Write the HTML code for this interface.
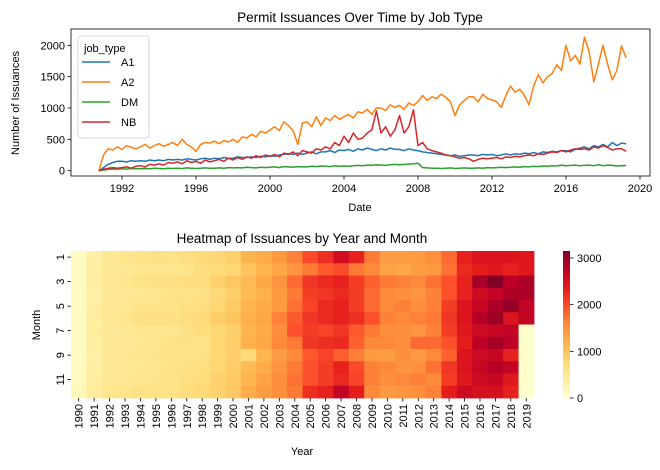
<!DOCTYPE html>
<html><head><meta charset="utf-8"><style>
body{margin:0;background:#fff;}
svg{display:block;font-family:"Liberation Sans","DejaVu Sans",sans-serif;}
</style></head><body>
<svg id="c" width="660" height="470"></svg>
<script>
// ---- Line chart data (quarterly, starting 1990.75; one year per line) ----
const startYear = 1990.75;
const stepYear = 0.25;
const seriesNames = ["A1","A2","DM","NB"];
const a1Values = [0,
50,100,130,150,
150,140,160,150,
160,150,170,160,
170,160,180,170,
180,170,190,180,
170,190,200,180,
200,190,210,200,
200,220,210,210,
220,210,230,220,
240,230,250,260,
270,260,280,260,
280,300,270,300,
300,320,290,330,
320,340,310,350,
330,360,340,320,
350,330,360,340,
340,320,350,330,
320,300,290,280,
270,260,250,240,
250,230,240,250,
250,240,260,250,
260,240,250,270,
250,270,260,280,
270,290,270,300,
290,310,300,320,
320,300,340,360,
380,350,400,380,
420,380,450,400,
440,430];
const a2Values = [0,
250,350,330,380,
340,400,370,350,
380,420,360,400,
430,390,420,450,
400,500,420,380,
310,420,450,440,
470,430,480,460,
500,450,540,520,
580,540,630,600,
650,700,640,780,
720,640,420,760,
780,700,860,720,
840,800,880,820,
860,900,840,940,
920,980,900,1000,
1000,960,1050,1010,
1040,980,1080,1040,
1100,1200,1120,1180,
1150,1220,1170,1100,
880,1050,1120,1180,
1180,1100,1220,1150,
1130,1100,1010,1200,
1350,1250,1300,1200,
1050,1350,1530,1400,
1500,1550,1690,1600,
2000,1750,1840,1700,
2130,1900,1420,1700,
2000,1700,1450,1600,
1990,1800];
const dmValues = [0,
10,20,25,25,
30,25,35,30,
30,35,30,40,
35,30,40,35,
40,35,45,40,
35,40,45,40,
40,45,40,50,
45,50,45,55,
50,45,55,50,
55,60,50,65,
60,55,65,60,
60,70,65,75,
70,65,80,70,
75,70,80,85,
80,90,85,95,
90,85,95,100,
95,100,105,110,
120,50,45,40,
40,35,40,45,
35,40,45,40,
40,45,40,50,
45,50,55,50,
55,60,55,65,
60,70,65,75,
70,80,75,90,
80,85,90,80,
85,90,80,95,
80,90,85,75,
80,85];
const nbValues = [0,
20,40,50,40,
50,60,40,70,
80,60,100,90,
110,90,130,120,
140,110,160,130,
150,120,170,140,
160,180,150,200,
170,210,180,220,
200,240,210,250,
230,260,220,280,
260,300,240,320,
300,280,350,330,
380,350,450,400,
550,450,600,500,
520,600,650,950,
600,700,550,650,
880,600,700,970,
400,450,350,320,
300,280,250,240,
220,200,210,190,
150,180,200,190,
200,210,190,220,
210,230,220,240,
250,240,270,260,
280,300,290,320,
300,330,350,340,
350,330,380,360,
400,370,330,350,
350,310];

// ---- Heatmap data (rows = years 1990..2019, 12 months each) ----
const years = [1990,1991,1992,1993,1994,1995,1996,1997,1998,1999,2000,2001,2002,2003,2004,2005,2006,2007,2008,2009,2010,2011,2012,2013,2014,2015,2016,2017,2018,2019];
const monthLabels = ["1","3","5","7","9","11"];
const heat = [
[80,80,80,80,80,80,80,80,80,100,120,150],
[350,380,380,360,370,380,400,380,360,380,400,420],
[500,480,520,480,500,520,470,480,500,480,500,540],
[560,500,560,500,520,560,500,500,520,500,520,580],
[600,560,620,540,580,640,560,540,560,540,560,640],
[640,560,640,560,600,660,560,560,600,560,600,620],
[620,560,660,600,620,640,560,600,620,600,620,640],
[680,600,680,620,660,680,640,640,620,640,660,700],
[760,680,700,640,680,720,700,600,640,680,700,780],
[800,740,860,780,820,900,800,820,800,820,860,860],
[880,820,980,900,940,980,880,900,900,920,940,960],
[1150,1000,1100,1100,1150,1200,1150,1200,750,1100,1150,1250],
[1250,1150,1300,1200,1250,1300,1250,1300,1150,1250,1350,1400],
[1450,1300,1500,1450,1450,1650,1550,1600,1400,1500,1550,1550],
[1650,1500,1800,1700,1750,1900,1950,1700,1600,1700,1750,1700],
[2000,1700,2150,2100,2050,2150,2100,2150,1900,1950,1950,2200],
[2200,1900,2250,2150,2250,2250,2050,2200,2050,2100,2100,2300],
[2550,2000,2300,2250,2300,2300,2150,2250,1850,2300,2250,2700],
[2300,1700,2100,2100,2100,2200,1900,1850,1650,2000,2050,2350],
[1700,1600,1850,1800,1800,1950,1700,1600,1450,1650,1650,1600],
[1400,1350,1700,1600,1600,1650,1550,1600,1400,1600,1550,1450],
[1400,1300,1650,1550,1650,1600,1550,1550,1550,1500,1600,1500],
[1450,1400,1600,1500,1550,1650,1500,1800,1450,1550,1650,1550],
[1550,1450,1750,1650,1650,1700,1650,1800,1600,1750,1600,1650],
[1800,1750,1950,1950,2100,2150,2100,1950,1850,2150,2100,2350],
[2300,2250,2300,2300,2450,2450,2400,2350,2450,2450,2400,2600],
[2450,2350,2900,2600,2650,2800,2600,2750,2600,2650,2600,2500],
[2450,2400,3150,2700,2850,2950,2650,2900,2650,2800,2650,2500],
[2450,2300,2750,2850,3000,2450,2700,2750,2300,2700,2400,2300],
[2400,2400,2850,2850,2700,2700,0,0,0,0,0,0]
];
const yTicks = [0,500,1000,1500,2000];
const xTickYears = [1992,1996,2000,2004,2008,2012,2016,2020];
const cbTicks = [0,1000,2000,3000];

const NS="http://www.w3.org/2000/svg";
const svg=document.getElementById('c');
function el(tag,attrs,parent){const e=document.createElementNS(NS,tag);for(const k in attrs)e.setAttribute(k,attrs[k]);(parent||svg).appendChild(e);return e;}
function txt(s,attrs,name){const t=el('text',attrs);t.textContent=s;


return t;}

// ---- line chart axes ----
const L={x0:71,x1:650,y0:29,y1:176};
const xS=y=>122+(y-1992)*18.5;
const yS=v=>170.7-v*0.0627;
const colors=["#1f77b4","#ff7f0e","#2ca02c","#d62728"];
const allSeries=[a1Values,a2Values,dmValues,nbValues];
txt("Permit Issuances Over Time by Job Type",{x:360,y:22,"text-anchor":"middle","font-size":13.5},"line-chart-title");
allSeries.forEach((vals,si)=>{
  const d=vals.map((v,i)=>(i?'L':'M')+xS(startYear+i*stepYear).toFixed(1)+','+yS(v).toFixed(1)).join('');
  const p=el('path',{d:d,fill:'none',stroke:colors[si],'stroke-width':1.5,'stroke-linejoin':'round'});
  
  
});
const frame=el('rect',{x:L.x0,y:L.y0,width:L.x1-L.x0,height:L.y1-L.y0,fill:'none',stroke:'#000','stroke-width':0.8});


yTicks.forEach(v=>{const y=yS(v);el('line',{x1:L.x0-3.5,x2:L.x0,y1:y,y2:y,stroke:'#000','stroke-width':0.8});
txt(String(v),{x:L.x0-6,y:y+4,"text-anchor":"end","font-size":11},"y-tick-label");});
xTickYears.forEach(yr=>{const x=xS(yr);el('line',{x1:x,x2:x,y1:L.y1,y2:L.y1+3.5,stroke:'#000','stroke-width':0.8});
txt(String(yr),{x:x,y:L.y1+16,"text-anchor":"middle","font-size":11},"x-tick-label");});
txt("Date",{x:360,y:211,"text-anchor":"middle","font-size":11},"x-axis-title");
txt("Number of Issuances",{x:19,y:103,"text-anchor":"middle","font-size":11,transform:"rotate(-90 19 103)"},"y-axis-title");
// legend
const lg=el('rect',{x:78,y:36,width:71,height:102,rx:3,fill:'#fff','fill-opacity':0.85,stroke:'#ccc','stroke-width':0.8});


txt("job_type",{x:84,y:52,"font-size":11},"legend-title");
seriesNames.forEach((n,i)=>{const y=66+i*20;
 el('line',{x1:82,x2:110,y1:y-4,y2:y-4,stroke:colors[i],'stroke-width':1.5});
 txt(n,{x:121,y:y,"font-size":11},"legend-entry");});

// ---- heatmap ----
const H={x0:71,x1:534,y0:251,y1:398};
const cw=(H.x1-H.x0)/years.length, ch=(H.y1-H.y0)/12;
const stops=["#ffffcc","#ffeda0","#fed976","#feb24c","#fd8d3c","#fc4e2a","#e31a1c","#bd0026","#800026"];
const vmax=3150;
function hx(h){return [1,3,5].map(i=>parseInt(h.substr(i,2),16));}
function cmap(v){let t=Math.max(0,Math.min(1,v/vmax))*(stops.length-1);const i=Math.min(Math.floor(t),stops.length-2),f=t-i;
const a=hx(stops[i]),b=hx(stops[i+1]);return 'rgb('+a.map((c,k)=>Math.round(c+(b[k]-c)*f)).join(',')+')';}
txt("Heatmap of Issuances by Year and Month",{x:302,y:243,"text-anchor":"middle","font-size":13.5},"heatmap-title");
years.forEach((yr,ci)=>{
  heat[ci].forEach((v,mi)=>{
    const r=el('rect',{x:(H.x0+ci*cw).toFixed(2),y:(H.y0+mi*ch).toFixed(2),width:(cw+0.4).toFixed(2),height:(ch+0.4).toFixed(2),fill:cmap(v)});
    
    
  });
  const x=H.x0+(ci+0.5)*cw;
  el('line',{x1:x,x2:x,y1:H.y1,y2:H.y1+3.5,stroke:'#000','stroke-width':0.8});
  txt(String(yr),{x:x+4,y:H.y1+6,"text-anchor":"end","font-size":11,transform:`rotate(-90 ${x+4} ${H.y1+6})`},"heatmap-x-tick-label");
});
monthLabels.forEach(m=>{const y=H.y0+(parseInt(m)-0.5)*ch;
 el('line',{x1:H.x0-3.5,x2:H.x0,y1:y,y2:y,stroke:'#000','stroke-width':0.8});
 txt(m,{x:H.x0-7,y:y,"text-anchor":"middle","font-size":11,transform:`rotate(-90 ${H.x0-7} ${y})`},"heatmap-y-tick-label");});
txt("Year",{x:302,y:455,"text-anchor":"middle","font-size":11},"heatmap-x-axis-title");
txt("Month",{x:40,y:325,"text-anchor":"middle","font-size":11,transform:"rotate(-90 40 325)"},"heatmap-y-axis-title");
// colorbar
const defs=el('defs',{});const g=el('linearGradient',{id:'cb',x1:0,y1:1,x2:0,y2:0},defs);
stops.forEach((s,i)=>el('stop',{offset:i/(stops.length-1),'stop-color':s},g));
const cb=el('rect',{x:563,y:H.y0,width:7,height:H.y1-H.y0,fill:'url(#cb)'});


cbTicks.forEach(v=>{const y=H.y1-v/vmax*(H.y1-H.y0);
 el('line',{x1:570,x2:573.5,y1:y,y2:y,stroke:'#000','stroke-width':0.8});
 txt(String(v),{x:577,y:y+4,"font-size":11},"colorbar-tick-label");});
</script>
</body></html>
